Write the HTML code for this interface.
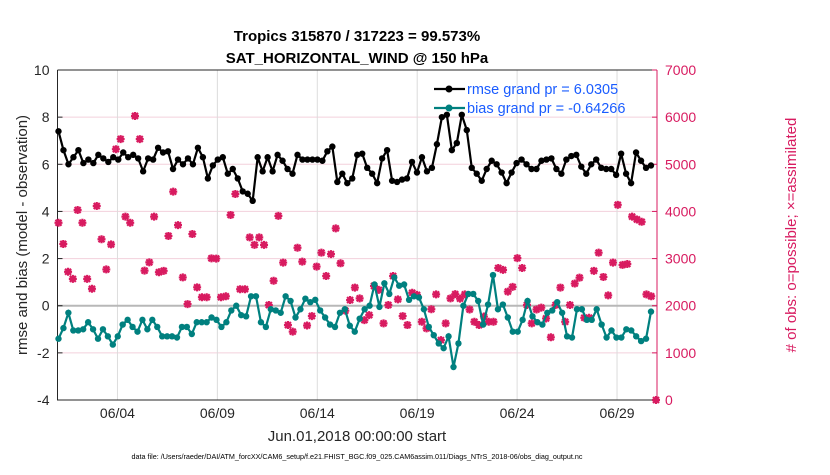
<!DOCTYPE html>
<html><head><meta charset="utf-8"><style>
body{margin:0;background:#fff;}
svg text{font-family:"Liberation Sans",sans-serif;}
</style></head><body>
<svg id="c" width="830" height="470">
</svg>
<script>
const dateLabels=["06/04","06/09","06/14","06/19","06/24","06/29"];
const dateDays=[3,8,13,18,23,28];
const leftTicks=[-4,-2,0,2,4,6,8,10];
const rightTicks=[0,1000,2000,3000,4000,5000,6000,7000];
const rmse=[7.4,6.6,6.0,6.3,6.6,6.05,6.2,6.05,6.4,6.25,6.1,6.3,6.2,6.5,6.3,6.4,6.25,5.7,6.25,6.2,6.7,6.5,6.55,5.8,6.2,6.0,6.25,6.0,6.7,6.3,5.4,5.95,6.2,6.3,5.6,5.8,5.4,4.85,4.75,4.45,6.3,5.7,
6.3,5.7,6.4,6.15,5.8,5.6,6.4,6.2,6.2,6.2,6.2,6.15,6.55,6.75,5.25,5.6,5.2,5.4,6.4,6.45,5.85,5.6,5.2,6.25,6.6,5.3,5.25,5.35,5.4,6.1,5.65,6.3,5.7,5.85,6.85,8.0,8.1,6.6,6.9,8.1,
7.45,5.85,5.6,5.3,5.8,6.15,6.0,5.65,5.2,5.65,6.05,6.2,6.0,5.8,5.8,6.15,6.2,6.25,5.8,5.6,6.2,6.35,6.4,5.9,5.6,6.0,6.2,5.85,5.8,5.8,5.55,6.45,5.6,5.2,6.5,6.15,5.85,5.95];
const bias=[-1.4,-0.95,-0.3,-1.05,-1.05,-1.0,-0.7,-1.0,-1.4,-1.0,-1.3,-1.65,-1.3,-0.8,-0.6,-0.9,-1.1,-0.6,-1.0,-0.6,-0.9,-1.3,-1.3,-1.3,-1.35,-0.9,-0.9,-1.2,-0.7,-0.7,-0.7,-0.5,-0.6,-0.9,-0.7,-0.2,0,-0.4,-0.45,0.4,0.4,-0.7,
-0.9,-0.15,-0.2,-0.3,0.4,0.2,-0.5,-0.15,0.3,0.15,0.25,-0.2,-0.5,-0.8,-0.9,-0.3,-0.15,-0.85,-1.1,-0.55,-0.15,0,0.9,-0.05,0.95,0.5,1.2,0.85,0.9,0.25,0.4,0.35,-0.15,-0.9,-1.25,-1.6,-1.8,-1.3,-2.6,-1.6,
0,0.5,0.5,0.2,-0.8,0.05,1.3,-0.15,0.05,-0.5,-1.1,-1.1,-0.6,0.2,-0.45,-0.7,-0.8,-0.3,-0.2,0.15,-0.3,-1.3,-1.35,-0.15,-0.15,-0.6,-0.6,-0.15,-0.8,-1.35,-1.05,-1.35,-1.35,-1.0,-1.05,-1.3,-1.5,-1.4,-0.25];
const obs=[3760,3310,2720,2570,4030,3760,2570,2360,4115,3410,2770,3300,5320,5535,3890,3760,6025,5535,2745,2920,3890,2710,2740,3480,4420,3710,2600,2035,3520,2390,2180,2180,3005,3000,2180,2200,3925,4370,2350,2350,3450,3290,
3450,3290,2015,2530,3905,2915,1590,1450,3230,2935,1580,1780,2830,3125,2630,3095,3640,2900,1895,2120,2385,2155,1695,1800,2420,2335,1625,2015,2630,2135,1780,1590,2275,2230,1660,1520,1925,2240,1270,1625,2155,2245,
2150,2240,1920,1660,1590,1770,1660,1660,2800,2760,2300,2400,3010,2800,2015,1625,1920,1960,1730,1330,2015,2385,1660,2015,2470,2595,1745,1745,2740,3125,2610,2220,2915,4140,2865,2885,3890,3830,3780,2240,2200,0];

const L=57.5,R=657,T=70,B=400;
const xs=d=>L+d*(R-L)/30;
const yl=v=>B-(v+4)*(B-T)/14;
const yr=v=>B-v*(B-T)/7000;
const svg=document.getElementById('c');
const NS='http://www.w3.org/2000/svg';
function mk(tag,at,parent){const e=document.createElementNS(NS,tag);for(const k in at)e.setAttribute(k,at[k]);(parent||svg).appendChild(e);return e;}
function txt(s,at){const e=mk('text',at);e.textContent=s;return e;}

rightTicks.forEach(v=>{const e=mk('line',{x1:L,x2:R,y1:yr(v),y2:yr(v),stroke:'#f3d0dc','stroke-width':1});

});
dateDays.forEach(d=>{const e=mk('line',{x1:xs(d),x2:xs(d),y1:T,y2:B,stroke:'#dcdcdc','stroke-width':1});

});
const zl=mk('line',{x1:L,x2:R,y1:yl(0),y2:yl(0),stroke:'#b8b8b8','stroke-width':2});



const box=mk('path',{d:`M${L},${T}V${B}H${R}M${L},${T}H${R}`,stroke:'#262626',fill:'none','stroke-width':1});


const ra=mk('line',{x1:R,x2:R,y1:T,y2:B,stroke:'#d81b60','stroke-width':1});


leftTicks.forEach(v=>{const t=txt(String(v),{x:L-8,y:yl(v)+5,'text-anchor':'end','font-size':14,fill:'#262626'});


mk('line',{x1:L,x2:L+5,y1:yl(v),y2:yl(v),stroke:'#262626'});});
rightTicks.forEach(v=>{const t=txt(String(v),{x:R+8,y:yr(v)+5,'font-size':14,fill:'#d81b60'});


mk('line',{x1:R-5,x2:R,y1:yr(v),y2:yr(v),stroke:'#d81b60'});});
dateLabels.forEach((s,i)=>{const t=txt(s,{x:xs(dateDays[i]),y:418,'text-anchor':'middle','font-size':14,fill:'#262626'});

});

const n3=obs.length;
obs.forEach((v,i)=>{const x=xs(0.05+i*29.9/(n3-1)),y=yr(v);
const g=mk('path',{d:`M${x-4},${y}H${x+4}M${x},${y-4}V${y+4}M${x-3},${y-3}L${x+3},${y+3}M${x-3},${y+3}L${x+3},${y-3}`,stroke:'#d81b60','stroke-width':2.2});

});

function series(arr,color,name){
 const n=arr.length;const pts=arr.map((v,i)=>[xs(0.05+i*29.65/(n-1)),yl(v)]);
 const p=mk('polyline',{points:pts.map(p=>p.join(',')).join(' '),fill:'none',stroke:color,'stroke-width':2.2});
 
 
 pts.forEach(q=>{const c=mk('circle',{cx:q[0],cy:q[1],r:3.2,fill:color});
 
 });
}
series(bias,'#00807f','bias');
series(rmse,'#000000','rmse');

const lg=[['#000','rmse grand pr = 6.0305',90],['#00807f','bias grand pr = -0.64266',109]];
lg.forEach(l=>{mk('line',{x1:434,x2:465,y1:l[2]-1,y2:l[2]-1,stroke:l[0],'stroke-width':2.2});
mk('circle',{cx:449,cy:l[2]-1,r:3.5,fill:l[0]});
const t=txt(l[1],{x:467,y:l[2]+4,'font-size':14.5,fill:'#1a5cff'});

});

let t;
t=txt('Tropics 315870 / 317223 = 99.573%',{x:357,y:41,'text-anchor':'middle','font-size':15,'font-weight':'bold',fill:'#000'});

t=txt('SAT_HORIZONTAL_WIND @ 150 hPa',{x:357,y:63,'text-anchor':'middle','font-size':15,'font-weight':'bold',fill:'#000'});

t=txt('rmse and bias (model - observation)',{x:0,y:0,'text-anchor':'middle','font-size':15,fill:'#262626',transform:'translate(27,235) rotate(-90)'});

t=txt('# of obs: o=possible; \u00d7=assimilated',{x:0,y:0,'text-anchor':'middle','font-size':15,fill:'#d81b60',transform:'translate(796,235) rotate(-90)'});

t=txt('Jun.01,2018 00:00:00 start',{x:357,y:441,'text-anchor':'middle','font-size':15,fill:'#262626'});

t=txt('data file: /Users/raeder/DAI/ATM_forcXX/CAM6_setup/f.e21.FHIST_BGC.f09_025.CAM6assim.011/Diags_NTrS_2018-06/obs_diag_output.nc',{x:357,y:459,'text-anchor':'middle','font-size':7.2,fill:'#000'});

</script>
</body></html>
